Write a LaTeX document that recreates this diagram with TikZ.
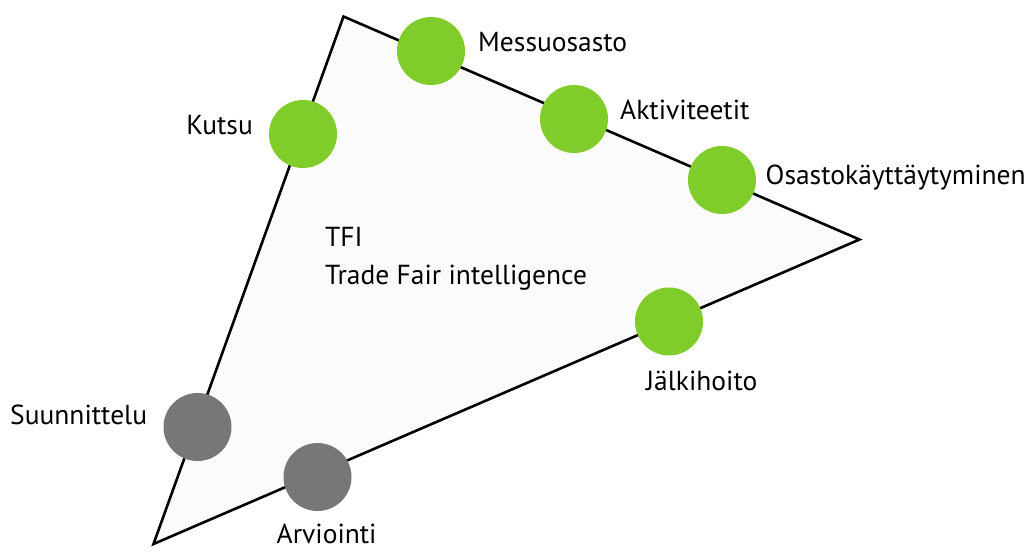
\documentclass[tikz,border=0pt]{standalone}
\usepackage{fontspec}
\setmainfont{PT Sans}
\definecolor{dotgreen}{HTML}{7FCC2A}
\definecolor{dotgrey}{HTML}{777777}
\definecolor{trifill}{HTML}{FBFBFB}
\tikzset{
  dot/.style={circle, minimum size=68pt, inner sep=0pt, draw=none},
  gdot/.style={dot, fill=dotgreen},
  sdot/.style={dot, fill=dotgrey},
  lbl/.style={inner sep=0pt, font=\fontsize{27.5}{32}\selectfont},
  edge/.style={line width=2.6pt, line join=miter}
}
\begin{document}
\begin{tikzpicture}[x=1pt,y=-1pt]
\useasboundingbox (0,0) rectangle (1035,555);
\coordinate (top) at (343.5,16.5);
\coordinate (right) at (859.5,239.5);
\coordinate (bottom) at (153.5,544);
\draw[edge, fill=trifill] (top) -- (right) -- (bottom) -- cycle;
\node[gdot] (kutsu) at (303,134) {};
\node[gdot] (messu) at (431,51) {};
\node[gdot] (akt) at (574,119) {};
\node[gdot] (osasto) at (722,180) {};
\node[gdot] (jalki) at (669,321.5) {};
\node[sdot] (suun) at (197.5,427) {};
\node[sdot] (arv) at (317.5,477) {};
\node[lbl, anchor=base east] (lkutsu) at (253,134) {Kutsu};
\node[lbl, anchor=base west] (lmessu) at (478,51) {Messuosasto};
\node[lbl, anchor=base west] (lakt) at (620,119) {Aktiviteetit};
\node[lbl, anchor=base west] (losasto) at (765.5,184) {Osastokäyttäytyminen};
\node[lbl, anchor=base west] (ljalki) at (646,390) {Jälkihoito};
\node[lbl, anchor=base west] (lsuun) at (10,424) {Suunnittelu};
\node[lbl, anchor=base west] (larv) at (276.5,543) {Arviointi};
\node[lbl, anchor=base west] (ltfi) at (325,246) {TFI};
\node[lbl, anchor=base west] (ltrade) at (325,284) {Trade Fair intelligence};
\end{tikzpicture}
\end{document}
